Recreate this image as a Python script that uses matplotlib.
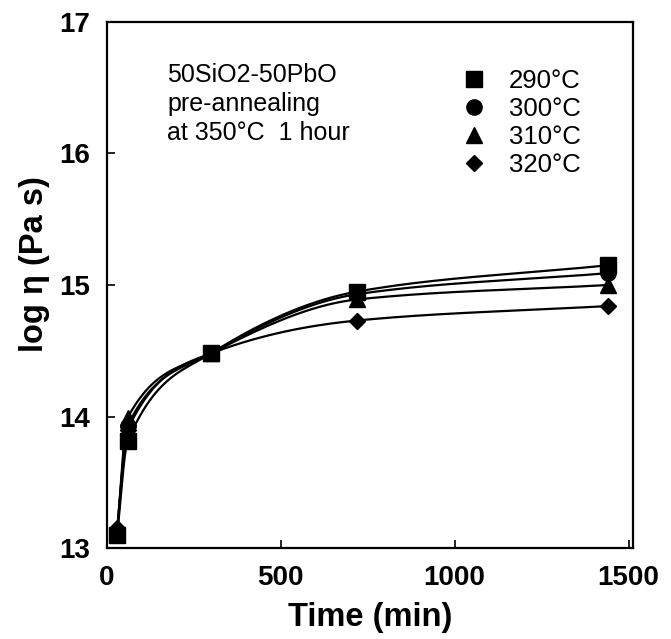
import numpy as np
import matplotlib
matplotlib.use("Agg")
import matplotlib.pyplot as plt

plt.rcParams['font.family'] = ['Liberation Sans', 'DejaVu Sans']

# data
time_min = [30, 60, 300, 720, 1440]
series_labels = ["290°C", "300°C", "310°C", "320°C"]
log_eta = {
    "290°C": [13.10, 13.81, 14.48, 14.95, 15.15],
    "300°C": [13.12, 13.93, 14.48, 14.93, 15.09],
    "310°C": [13.12, 13.99, 14.48, 14.89, 15.00],
    "320°C": [13.15, 13.90, 14.48, 14.73, 14.84],
}
markers = {"290°C": "s", "300°C": "o", "310°C": "^", "320°C": "D"}
msizes = {"290°C": 11, "300°C": 11, "310°C": 11, "320°C": 8.5}


#monotone cubic (Fritsch-Carlson) so the curves look like the smoothed originals
def pchip(x, y, xn):
    x = np.asarray(x, float)
    y = np.asarray(y, float)
    h = np.diff(x)
    d = np.diff(y) / h
    m = np.zeros_like(y)
    for k in range(1, len(x) - 1):
        if d[k - 1] * d[k] <= 0:
            m[k] = 0
        else:
            w1 = 2 * h[k] + h[k - 1]
            w2 = h[k] + 2 * h[k - 1]
            m[k] = (w1 + w2) / (w1 / d[k - 1] + w2 / d[k])
    m[0] = d[0]
    m[-1] = d[-1]
    out = np.empty_like(xn)
    for i, xv in enumerate(xn):
        k = min(np.searchsorted(x, xv) - 1, len(x) - 2)
        k = max(k, 0)
        t = (xv - x[k]) / h[k]
        h00 = 2 * t**3 - 3 * t**2 + 1
        h10 = t**3 - 2 * t**2 + t
        h01 = -2 * t**3 + 3 * t**2
        h11 = t**3 - t**2
        out[i] = h00 * y[k] + h10 * h[k] * m[k] + h01 * y[k + 1] + h11 * h[k] * m[k + 1]
    return out


fig = plt.figure(figsize=(6.71, 6.39), dpi=100)
ax = fig.add_axes([0.159, 0.1424, 0.784, 0.8232])

tt = np.linspace(time_min[0], time_min[-1], 800)
for lab in series_labels:
    ax.plot(tt, pchip(time_min, log_eta[lab], tt), color='black', lw=1.6)
for lab in series_labels:
    ax.plot(time_min, log_eta[lab], linestyle='none', marker=markers[lab],
            markersize=msizes[lab], color='black', label=lab)

ax.set_xlim(0, 1512)
ax.set_ylim(13, 17)
ax.set_xticks([0, 500, 1000, 1500])
ax.set_yticks([13, 14, 15, 16, 17])
ax.tick_params(direction='in', length=6, width=1.2, labelsize=20, pad=12,
               top=False, right=False)
for lbl in ax.get_xticklabels() + ax.get_yticklabels():
    lbl.set_fontweight('bold')
for s in ax.spines.values():
    s.set_linewidth(1.6)

ax.set_xlabel("Time (min)", fontsize=23.5, fontweight='bold', labelpad=8)
ax.set_ylabel("log η (Pa s)", fontsize=23.5, fontweight='bold')
ax.yaxis.set_label_coords(-0.108, 0.54)

ax.text(0.115, 0.922, "50SiO2-50PbO\npre-annealing\nat 350°C  1 hour",
        transform=ax.transAxes, fontsize=18, va='top', ha='left', linespacing=1.27)

ax.legend(loc='upper left', bbox_to_anchor=(0.642, 0.93), frameon=False, fontsize=18.5,
          handletextpad=0.6, labelspacing=0.15, borderaxespad=0, handlelength=1.5)

fig.savefig("out.png", dpi=100)
